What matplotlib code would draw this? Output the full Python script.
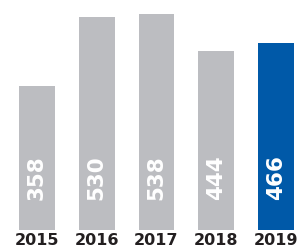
import matplotlib.pyplot as plt

years = ['2015', '2016', '2017', '2018', '2019']
values = [358, 530, 538, 444, 466]
colors = ['#bcbdc1', '#bcbdc1', '#bcbdc1', '#bcbdc1', '#0059a8']

fig = plt.figure(figsize=(2.97, 2.50), dpi=100)
ax = fig.add_axes([0, 0.08, 1, 0.92])

x = range(len(years))
ax.bar(x, values, width=0.6, color=colors)

for i, v in zip(x, values):
    ax.text(i, 74, str(v), rotation=90, ha='center', va='bottom',
            color='white', fontsize=15.5, fontweight='heavy')

ax.set_xlim(-0.62, 4.355)
ax.set_ylim(0, 572)
ax.set_xticks(list(x))
ax.set_xticklabels(years, fontsize=11.5, fontweight='heavy', color='#231f20')
ax.tick_params(axis='x', length=0, pad=2.5)
ax.set_yticks([])
for s in ax.spines.values():
    s.set_visible(False)

fig.savefig('out.png', dpi=100)
